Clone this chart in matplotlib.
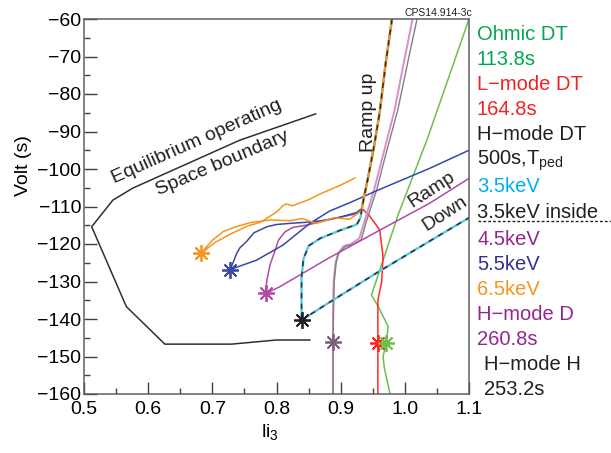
import matplotlib
matplotlib.use("Agg")
import matplotlib.pyplot as plt
from matplotlib.lines import Line2D

plt.rcParams['font.family'] = ['Liberation Sans', 'DejaVu Sans']
plt.rcParams['mathtext.fontset'] = 'custom'
plt.rcParams['mathtext.rm'] = 'Liberation Sans'
plt.rcParams['mathtext.it'] = 'Liberation Sans'

# operating space boundary
bnd_x = [0.861, 0.743, 0.576, 0.545, 0.512, 0.566, 0.626, 0.73, 0.80, 0.852]
bnd_y = [-85.3, -92.3, -105.1, -108.3, -115.4, -136.7, -146.7, -146.7, -145.6, -145.6]

# common steep ramp-up section
up_x = [0.980, 0.970, 0.961, 0.952, 0.943, 0.937, 0.933]
up_y = [-60, -72, -84.7, -94, -102, -107, -110.5]

# Ohmic DT
ohm_x = [1.1, 1.035, 0.990, 0.948, 0.958, 0.974, 0.971, 0.966, 0.968, 0.977]
ohm_y = [-60, -92, -112, -133.6, -136.5, -142, -146.5, -150, -153, -160]

# L-mode DT
lmode_x = up_x + [0.945, 0.961, 0.966, 0.964, 0.958, 0.958, 0.958]
lmode_y = up_y + [-112.5, -116.3, -123.4, -130, -135, -146.5, -160]

# H-mode H / H-mode D
hh_x = [1.019, 1.004, 0.989, 0.972, 0.956, 0.940, 0.932, 0.918, 0.907, 0.897, 0.893, 0.890, 0.889, 0.888, 0.888]
hh_y = [-60, -72, -84.3, -95, -105.6, -114, -118.9, -120.2, -120.7, -122.5, -125, -130, -137.6, -146.2, -160]
hd_x = [1.012, 0.998, 0.984, 0.968, 0.952, 0.937, 0.929, 0.916, 0.905, 0.896, 0.892, 0.889, 0.888, 0.888, 0.888]
hd_y = [-60, -72, -84.3, -95, -105.6, -114, -118.5, -120.0, -120.5, -122.5, -125, -130, -137.6, -146.2, -160]

# 3.5 keV (inside)
k35_up_x = up_x + [0.931, 0.925, 0.90, 0.868, 0.850, 0.842, 0.839, 0.839]
k35_up_y = up_y + [-113, -114.8, -116.3, -118.5, -120.5, -124, -129, -140.3]
k35_dn_x = [0.839, 0.883, 0.96, 1.039, 1.1]
k35_dn_y = [-140.3, -135.5, -127.3, -119.2, -113]

# 4.5 keV
k45_up_x = up_x + [0.925, 0.914, 0.880, 0.849, 0.825, 0.813, 0.803, 0.798, 0.790, 0.785, 0.783]
k45_up_y = up_y + [-112.0, -112.3, -113.6, -114.9, -115.6, -116.8, -119.0, -121.6, -125.5, -129.6, -133.2]
k45_dn_x = [0.783, 0.805, 0.883, 0.96, 1.039, 1.1]
k45_dn_y = [-133.2, -131.4, -123.6, -116.4, -109.1, -102.5]

# 5.5 keV
k55_up_x = up_x + [0.925, 0.90, 0.870, 0.847, 0.821, 0.800, 0.785, 0.765, 0.753, 0.743, 0.738, 0.728]
k55_up_y = up_y + [-111.6, -112.8, -113.8, -114.2, -114.5, -114.8, -115.4, -117.0, -119.4, -121.0, -122.5, -126.8]
k55_dn_x = [0.728, 0.769, 0.810, 0.852, 0.883, 0.914, 0.96, 1.039, 1.1]
k55_dn_y = [-126.8, -124.3, -120.3, -114.5, -111.2, -109, -105.5, -99.8, -95]

# 6.5 keV
k65_up_x = up_x + [0.930, 0.914, 0.890, 0.862, 0.840, 0.821, 0.790, 0.759, 0.735, 0.717, 0.700, 0.682]
k65_up_y = up_y + [-111.4, -113.4, -113.0, -114.5, -113.2, -113.8, -113.6, -114.3, -115.5, -116.7, -119.0, -122.5]
k65_dn_x = [0.682, 0.705, 0.730, 0.755, 0.775, 0.800, 0.810, 0.815, 0.825, 0.850, 0.870, 0.900, 0.922]
k65_dn_y = [-122.5, -119.5, -117.2, -115.2, -114.2, -111.5, -109.8, -109.3, -109.8, -108.2, -106.5, -104.3, -102.4]

# end points (stars)
star_x = [0.682, 0.728, 0.783, 0.839, 0.888, 0.958, 0.971]
star_y = [-122.5, -126.8, -133.2, -140.3, -146.2, -146.5, -146.5]
star_c = ['#f7941d', '#3848a8', '#b04aa8', '#202020', '#806080', '#ff2020', '#6cc04a']

legend_text = ['Ohmic DT', '113.8s', 'L\u2212mode DT', '164.8s', 'H\u2212mode DT',
               '500s,T$_{\\mathrm{ped}}$', '3.5keV', '3.5keV inside', '4.5keV', '5.5keV',
               '6.5keV', 'H\u2212mode D', '260.8s', 'H\u2212mode H', '253.2s']
legend_col = ['#00a651', '#00a651', '#ee2424', '#ee2424', '#231f20', '#231f20', '#00aeef',
              '#231f20', '#92278f', '#2e3192', '#f7941d', '#92278f', '#92278f', '#231f20', '#231f20']

fig = plt.figure(figsize=(6.11, 4.53), dpi=100)
ax = fig.add_axes([84 / 611, 1 - 394 / 453, 385 / 611, 375 / 453])

lw = 1.1
ax.plot(bnd_x, bnd_y, color='#303030', lw=lw)
ax.plot(ohm_x, ohm_y, color='#6cc04a', lw=lw)
ax.plot(lmode_x, lmode_y, color='#ff2a2a', lw=lw)
ax.plot(hd_x, hd_y, color='#d890c8', lw=1.4)
ax.plot(hh_x, hh_y, color='#808080', lw=1.0)
ax.plot(k45_up_x, k45_up_y, color='#b04aa8', lw=lw)
ax.plot(k45_dn_x, k45_dn_y, color='#b04aa8', lw=lw)
ax.plot(k55_up_x, k55_up_y, color='#3848a8', lw=lw)
ax.plot(k55_dn_x, k55_dn_y, color='#3848a8', lw=lw)
ax.plot(k65_up_x, k65_up_y, color='#f7941d', lw=lw)
ax.plot(k65_dn_x, k65_dn_y, color='#f7941d', lw=lw)
ax.plot(k35_up_x, k35_up_y, color='#5bc8e8', lw=1.7)
ax.plot(k35_dn_x, k35_dn_y, color='#5bc8e8', lw=1.7)
ax.plot(up_x, up_y, color='#f7941d', lw=1.7)
dash = (0, (3.5, 3.5))
ax.plot(k35_up_x, k35_up_y, color='#303030', lw=1.1, ls=dash)
ax.plot(k35_dn_x, k35_dn_y, color='#303030', lw=1.1, ls=dash)

for sx, sy, sc in zip(star_x, star_y, star_c):
    ax.plot(sx, sy, marker=(8, 2, 0), ms=12, mew=1.3, color=sc, ls='none')
    ax.plot(sx, sy, marker='o', ms=3, color=sc, ls='none')

ax.set_xlim(0.5, 1.1)
ax.set_ylim(-160, -60)
ax.set_xticks([0.5, 0.6, 0.7, 0.8, 0.9, 1.0, 1.1])
ax.set_xticks([0.55, 0.65, 0.75, 0.85, 0.95, 1.05], minor=True)
ax.set_yticks(range(-160, -59, 10))
ax.set_yticks(range(-155, -59, 10), minor=True)
ax.set_xticklabels(['0.5', '0.6', '0.7', '0.8', '0.9', '1.0', '1.1'])
ax.tick_params(which='major', direction='in', length=9, width=1, color='#404040',
               labelsize=14)
ax.tick_params(axis='x', which='major', pad=5)
ax.tick_params(axis='y', which='major', pad=2)
ax.tick_params(which='minor', direction='in', length=4.5, width=1, color='#404040')
for s in ax.spines.values():
    s.set_color('#606060')
    s.set_linewidth(1.1)

ax.set_ylabel('Volt (s)', fontsize=14)
ax.yaxis.set_label_coords(-0.135, 0.61)
ax.set_xlabel('li$_3$', fontsize=14)
ax.xaxis.set_label_coords(0.483, -0.075)

ax.text(0.676, -92.8, 'Equilibrium operating', rotation=24, fontsize=14,
        ha='center', va='center', color='#231f20')
ax.text(0.716, -98.6, 'Space boundary', rotation=23, fontsize=14,
        ha='center', va='center', color='#231f20')
ax.text(0.944, -84.8, 'Ramp up', rotation=90, fontsize=14,
        ha='center', va='center', color='#231f20')
ax.text(1.042, -105.6, 'Ramp', rotation=33, fontsize=14,
        ha='center', va='center', color='#231f20')
ax.text(1.062, -111.8, 'Down', rotation=33, fontsize=14,
        ha='center', va='center', color='#231f20')

fig.text(472 / 611, 1 - 16 / 453, 'CPS14.914-3c', fontsize=7.5, ha='right',
         va='baseline', color='#231f20')

baselines = [40, 65, 90, 115, 140, 165, 192, 218, 245, 270, 295, 320, 345, 370, 395]
for i, (t, c, b) in enumerate(zip(legend_text, legend_col, baselines)):
    x0 = 484 if i >= 13 else 477
    fig.text(x0 / 611, 1 - b / 453, t, fontsize=14.5, color=c, ha='left', va='baseline')

fig.add_artist(Line2D([478 / 611, 611 / 611], [1 - 221 / 453, 1 - 221 / 453],
                      color='#231f20', lw=1, ls=(0, (2, 1.5))))

fig.savefig('out.png', dpi=100)
